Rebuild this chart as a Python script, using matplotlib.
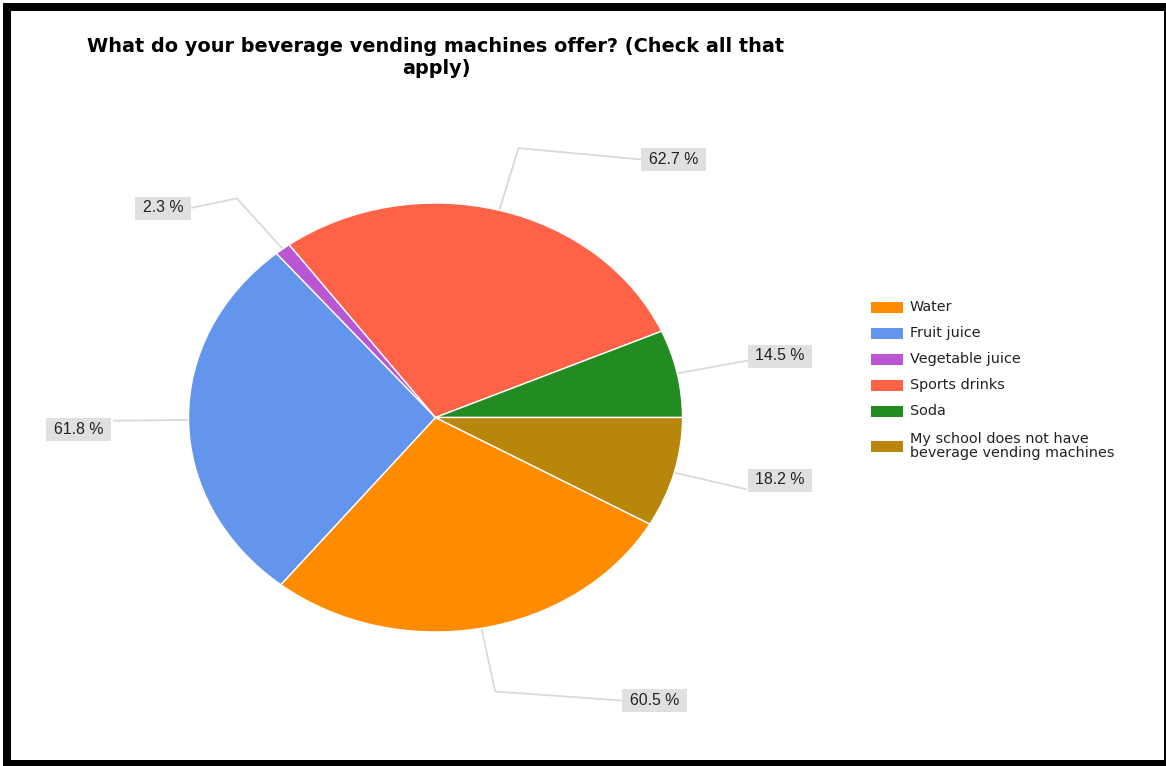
import numpy as np
import matplotlib
matplotlib.use("Agg")
import matplotlib.pyplot as plt
from matplotlib.patches import Rectangle

# --- DATA ---
categories = ["Water", "Fruit juice", "Vegetable juice", "Sports drinks", "Soda",
              "My school does not have\nbeverage vending machines"]
percents = [60.5, 61.8, 2.3, 62.7, 14.5, 18.2]
pct_labels = ["60.5 %", "61.8 %", "2.3 %", "62.7 %", "14.5 %", "18.2 %"]
colors = ["#ff8c00", "#6495ed", "#ba55d3", "#ff6347", "#228b22", "#b8860b"]
title_lines = ["What do your beverage vending machines offer? (Check all that", "apply)"]

# --- LAYOUT (pixels, y from top) ---
W, H = 1166, 766
CX, CY, RX, RY = 435.5, 417.5, 247.0, 214.5
# centre of each percentage box
label_pos = [(654.5, 700.5), (78.5, 429.5), (163, 208), (673.5, 159.5), (780, 356), (780, 480)]
legend_rows = [307, 333, 359, 385, 411, 446]

fig = plt.figure(figsize=(W / 100, H / 100), dpi=100)
fig.patch.set_facecolor("white")

# background / annotation layer in pixel coordinates
ax = fig.add_axes([0, 0, 1, 1], zorder=0)
ax.set_xlim(0, W)
ax.set_ylim(H, 0)
ax.axis("off")

# black frame around the picture
ax.add_patch(Rectangle((3, 3), W - 3, H - 3, facecolor="black", edgecolor="none"))
ax.add_patch(Rectangle((11, 11), 1153, 749, facecolor="white", edgecolor="none"))

# title
ax.text(436, 52.5, title_lines[0], ha="center", va="baseline", fontsize=13.9,
        fontweight="bold", color="black")
ax.text(436, 74.5, title_lines[1], ha="center", va="baseline", fontsize=13.9,
        fontweight="bold", color="black")

# pie (elliptical, axes stretched to the pie bounds)
pax = fig.add_axes([(CX - RX) / W, (H - CY - RY) / H, 2 * RX / W, 2 * RY / H], zorder=1)
start = -percents[-1] / sum(percents) * 360
wedges, _ = pax.pie(percents, colors=colors, startangle=start, counterclock=False,
                    radius=1, wedgeprops=dict(edgecolor="white", linewidth=1))
pax.set_aspect("auto")
pax.set_xlim(-1, 1)
pax.set_ylim(-1, 1)
pax.patch.set_alpha(0)

# percentage labels with leader lines
fig.canvas.draw()
renderer = fig.canvas.get_renderer()
inv = ax.transData.inverted()
for w, lab, (bx, by) in zip(wedges, pct_labels, label_pos):
    mid = np.deg2rad((w.theta1 + w.theta2) / 2)
    ex, ey = CX + RX * np.cos(mid), CY - RY * np.sin(mid)
    kx, ky = CX + 1.3 * RX * np.cos(mid), CY - 1.3 * RY * np.sin(mid)
    t = ax.text(bx, by, lab, ha="center", va="center", fontsize=11.4,
                family="Liberation Sans", color="#222222", zorder=5)
    bb = t.get_window_extent(renderer)
    (x0, y0), (x1, y1) = inv.transform([(bb.x0, bb.y0), (bb.x1, bb.y1)])
    bw = abs(x1 - x0) + 15
    bh = 23
    ax.add_patch(Rectangle((bx - bw / 2, by - bh / 2), bw, bh, facecolor="#e0e0e0",
                           edgecolor="none", zorder=4))
    side = bx - bw / 2 if bx > CX else bx + bw / 2
    xs, ys = [ex, kx], [ey, ky]
    if abs(kx - side) > 10:
        xs.append(side)
        ys.append(by)
    ax.plot(xs, ys, color="#d9d9d9", lw=1.3, zorder=3, solid_joinstyle="miter")

# legend
for cat, col, yy in zip(categories, colors, legend_rows):
    ax.add_patch(Rectangle((871, yy - 5.5), 32, 11, facecolor=col, edgecolor="none"))
    ax.text(910, yy, cat, ha="left", va="center", fontsize=10.4, color="#222222",
            linespacing=0.95)

fig.savefig("out.png", dpi=100, facecolor="white")
